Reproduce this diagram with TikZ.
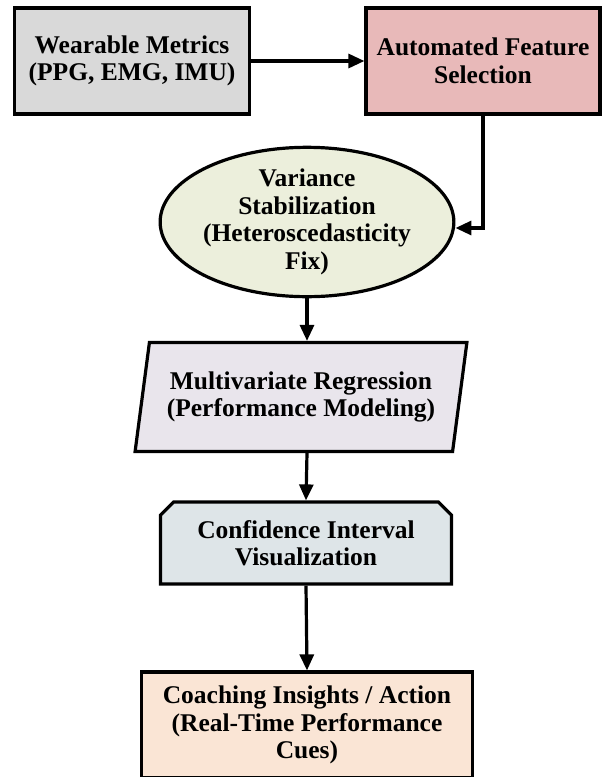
\documentclass[tikz,border=0pt]{standalone}
\usepackage{fontspec}
\setmainfont{Liberation Serif}
\usetikzlibrary{arrows.meta,positioning,shapes.geometric,shapes.misc}

\definecolor{metricgray}{HTML}{D9D9D9}
\definecolor{featurepink}{HTML}{E8B9B9}
\definecolor{varsage}{HTML}{ECEFDC}
\definecolor{reglilac}{HTML}{E9E5EC}
\definecolor{ciblue}{HTML}{DEE5E8}
\definecolor{actpeach}{HTML}{FAE5D5}

\begin{document}
\begin{tikzpicture}[x=1pt, y=-1pt,
	stage/.style={draw=black, line width=3.2pt, align=center, inner sep=0pt,
		font=\bfseries\fontsize{25.5}{27.5}\selectfont},
	flow/.style={line width=3.2pt, -{Triangle[length=16pt,width=14pt]}}]
	\useasboundingbox[fill=white] (0,0) rectangle (612,777);
	
	% Sensors and feature selection
	\node[stage, fill=metricgray, minimum width=235, minimum height=106] (metrics) at (132,61) {Wearable Metrics\\(PPG, EMG, IMU)};
	\node[stage, fill=featurepink, minimum width=234, minimum height=106] (select) at (483,61) {Automated Feature\\Selection};
	
	% Variance stabilization
	\node[stage, ellipse, fill=varsage, minimum width=271, minimum height=149] (stabil) at (307,222) {Variance\\Stabilization\\(Heteroscedasticity\\Fix)};
	
	% Regression model
	\node[stage, trapezium, trapezium left angle=76, trapezium right angle=104, trapezium stretches=true,
		fill=reglilac, minimum width=332, minimum height=109] (regress) at (301,397) {Multivariate Regression\\(Performance Modeling)};
	
	% Confidence intervals
	\node[stage, chamfered rectangle, chamfered rectangle corners={north west,north east}, chamfered rectangle xsep=10pt,
		fill=ciblue, minimum width=291, minimum height=82] (confid) at (306,543) {Confidence Interval\\Visualization};
	
	% Coaching output
	\node[stage, fill=actpeach, minimum width=331, minimum height=106] (coach) at (307,725) {Coaching Insights / Action\\(Real-Time Performance\\Cues)};
	
	% Connectors
	\draw[flow] (metrics.east) -- (select.west);
	\draw[flow] (select.south) |- ([yshift=-6pt]stabil.east);
	\draw[flow] (stabil.south) -- (stabil.south |- regress.north);
	\draw[flow] (stabil.south |- regress.south) -- (confid.north);
	\draw[flow] (confid.south) -- (coach.north);
\end{tikzpicture}
\end{document}
